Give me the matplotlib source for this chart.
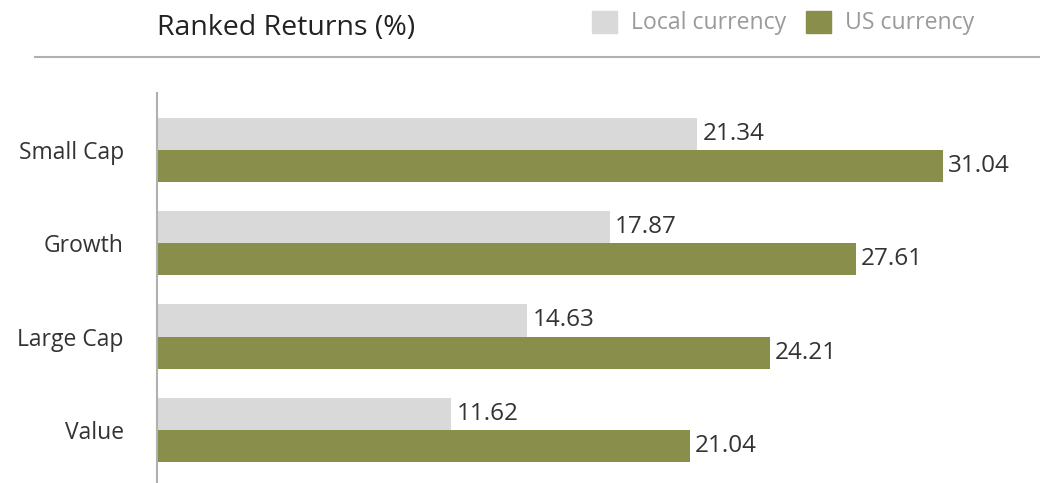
import matplotlib.pyplot as plt
from matplotlib.patches import Patch
from matplotlib.lines import Line2D

# Ranked returns by style / size segment
categories = ['Small Cap', 'Growth', 'Large Cap', 'Value']
local_ccy = [21.34, 17.87, 14.63, 11.62]
us_ccy = [31.04, 27.61, 24.21, 21.04]

light = '#d9d9d9'
olive = '#898e4a'
text_dark = '#333333'

plt.rcParams['font.family'] = ['Open Sans', 'DejaVu Sans']

fig = plt.figure(figsize=(10.4, 4.83), dpi=100)
ax = fig.add_axes([157 / 1040, 0, 883 / 1040, 390 / 483])

ypos = list(range(len(categories)))[::-1]
h = 0.345
ax.barh([y + h / 2 for y in ypos], local_ccy, height=h, color=light, label='Local currency')
ax.barh([y - h / 2 for y in ypos], us_ccy, height=h, color=olive, label='US currency')

for y, v in zip(ypos, local_ccy):
    ax.text(v + 0.2, y + h / 2, f'{v:.2f}', va='center', ha='left', fontsize=17.5, color=text_dark)
for y, v in zip(ypos, us_ccy):
    ax.text(v + 0.2, y - h / 2, f'{v:.2f}', va='center', ha='left', fontsize=17.5, color=text_dark)

ax.set_xlim(0, 34.87)
ax.set_ylim(-0.57, 3.61)
ax.set_yticks(ypos)
ax.set_yticklabels(categories, fontsize=16.5, color=text_dark)
ax.tick_params(axis='y', length=0, pad=24)
ax.set_xticks([])
for s in ['top', 'right', 'bottom']:
    ax.spines[s].set_visible(False)
ax.spines['left'].set_color('#b0b0b0')
ax.spines['left'].set_linewidth(1.5)

# header: title, legend and rule
fig.text(157 / 1040, 1 - 28 / 483, 'Ranked Returns (%)', fontsize=20.5, color='#222222',
         va='center', ha='left')
fig.add_artist(Line2D([35 / 1040, 1], [1 - 57 / 483, 1 - 57 / 483], color='#b0b0b0', lw=1.5))

handles = [Patch(color=light), Patch(color=olive)]
fig.legend(handles, ['Local currency', 'US currency'], loc='center left',
           bbox_to_anchor=(592 / 1040, 1 - 23 / 483), ncol=2, frameon=False,
           fontsize=16.6, labelcolor='#9a9a9a', handlelength=1.1, handleheight=1.1,
           handletextpad=0.6, columnspacing=0.85, borderpad=0, borderaxespad=0)

fig.savefig('out.png', dpi=100)
